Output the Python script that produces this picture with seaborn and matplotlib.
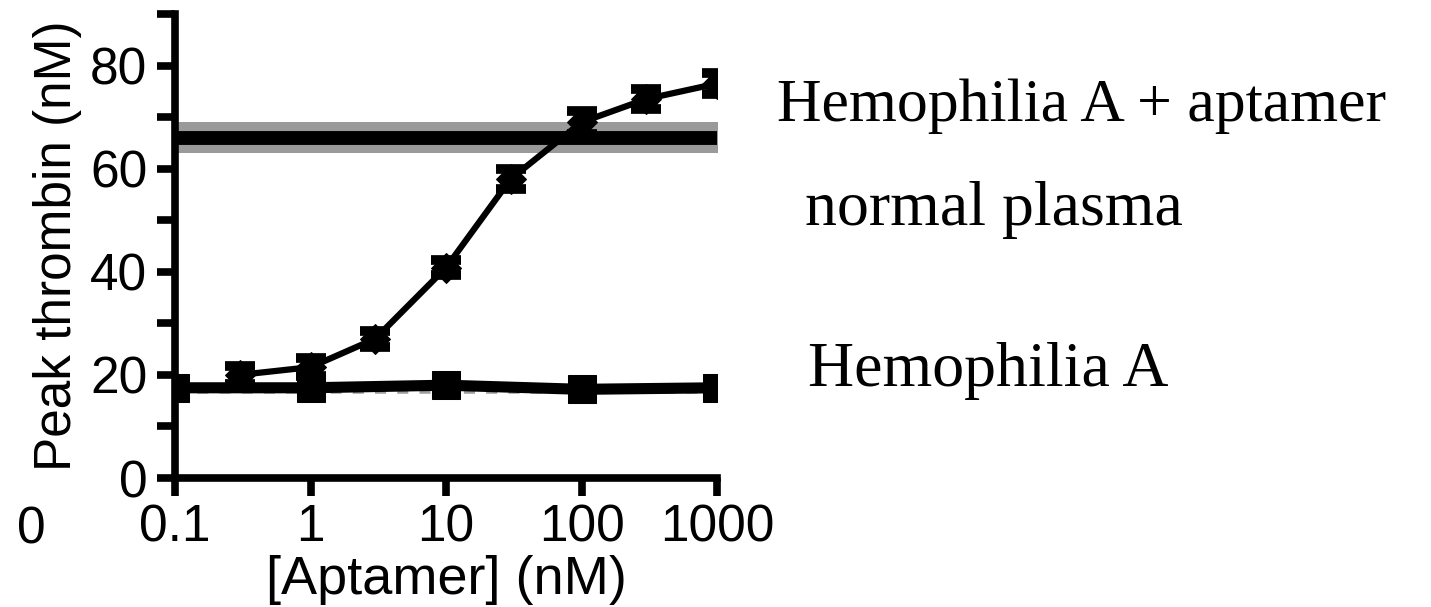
import numpy as np
import pandas as pd
import matplotlib
matplotlib.use("Agg")
import matplotlib.pyplot as plt
import seaborn as sns

# ---- data ----
apt_conc = [0.3, 1, 3, 10, 30, 100, 300, 1000]
apt_peak = [20.0, 21.5, 27.0, 40.8, 58.0, 69.0, 73.5, 76.5]
apt_err = [1.8, 1.8, 1.5, 1.5, 2.0, 2.2, 2.0, 2.0]

hemo_conc = [0.1, 1, 10, 100, 1000]
hemo_peak = [17.5, 17.5, 18.0, 17.2, 17.5]
hemo_err = [1.5, 1.5, 1.5, 1.5, 1.5]

normal_mean = 66.0
normal_low = 63.1
normal_high = 69.0
hemo_baseline = 16.8
line_span = [0.1, 1050]

x_ticks = [0.1, 1, 10, 100, 1000]
x_ticklabels = ["0.1", "1", "10", "100", "1000"]
y_ticks = [0, 20, 40, 60, 80]
y_minor = [10, 30, 50, 70, 90]

sns.set_style("ticks", {"axes.edgecolor": "black", "xtick.color": "black",
                        "ytick.color": "black", "text.color": "black",
                        "axes.labelcolor": "black"})
plt.rcParams["font.family"] = ["Liberation Sans", "DejaVu Sans"]

fig = plt.figure(figsize=(14.31, 6.07), dpi=100)
ax = fig.add_axes([0.1223, 0.2125, 0.3788, 0.7645])

# normal plasma band + line
ax.fill_between(line_span, normal_low, normal_high, color="#9a9a9a", lw=0, zorder=1)
sns.lineplot(x=line_span, y=[normal_mean, normal_mean], ax=ax, color="black",
             lw=10, zorder=2, solid_capstyle="butt")

# hemophilia A baseline dashed grey
sns.lineplot(x=line_span, y=[hemo_baseline, hemo_baseline], ax=ax, color="#a0a0a0",
             lw=4, zorder=2, linestyle=(0, (2, 2)))

# hemophilia A
df_h = pd.DataFrame({"conc": hemo_conc, "peak": hemo_peak})
sns.lineplot(data=df_h, x="conc", y="peak", ax=ax, color="black", lw=8,
             marker="s", markersize=20, markeredgecolor="black", zorder=3)
ax.errorbar(hemo_conc, hemo_peak, yerr=hemo_err, fmt="none", ecolor="black",
            elinewidth=4, capsize=8, capthick=4, zorder=3)

# hemophilia A + aptamer
df_a = pd.DataFrame({"conc": apt_conc, "peak": apt_peak})
sns.lineplot(data=df_a, x="conc", y="peak", ax=ax, color="black", lw=4.5,
             marker="D", markersize=15, markeredgecolor="black", zorder=4)
ax.errorbar(apt_conc, apt_peak, yerr=apt_err, fmt="none", ecolor="black",
            elinewidth=4, capsize=11, capthick=7, zorder=4)

ax.set_xscale("log")
ax.set_xlim(0.1, 1000)
ax.set_ylim(0, 90)
ax.set_xticks(x_ticks)
ax.set_xticklabels(x_ticklabels)
ax.xaxis.set_minor_locator(matplotlib.ticker.NullLocator())
ax.set_yticks(y_ticks)
ax.set_yticks(y_minor, minor=True)

for s in ["top", "right"]:
    ax.spines[s].set_visible(False)
for s in ["left", "bottom"]:
    ax.spines[s].set_linewidth(5.5)
    ax.spines[s].set_capstyle("projecting")
ax.tick_params(axis="y", which="major", length=13, width=5.5, labelsize=37, pad=7)
ax.tick_params(axis="x", which="major", length=13, width=5.5, labelsize=37, pad=5)
ax.tick_params(axis="y", which="minor", length=13, width=5.5)
ax.set_xlabel("[Aptamer] (nM)", fontsize=39, labelpad=2)
ax.set_ylabel("Peak thrombin (nM)", fontsize=37, labelpad=6)

# "0" break label
ax.text(0.00865, -0.06, "0", transform=ax.get_xaxis_transform(), ha="center", va="top",
        fontsize=37, clip_on=False)

serif = ["Liberation Serif", "DejaVu Serif"]
fig.text(777 / 1431, 1 - 106 / 607, "Hemophilia A + aptamer", family=serif, fontsize=44.5,
         ha="left", va="center")
fig.text(805 / 1431, 1 - 210 / 607, "normal plasma", family=serif, fontsize=46,
         ha="left", va="center")
fig.text(808 / 1431, 1 - 371 / 607, "Hemophilia A", family=serif, fontsize=46,
         ha="left", va="center")

fig.savefig("out.png", dpi=100)
